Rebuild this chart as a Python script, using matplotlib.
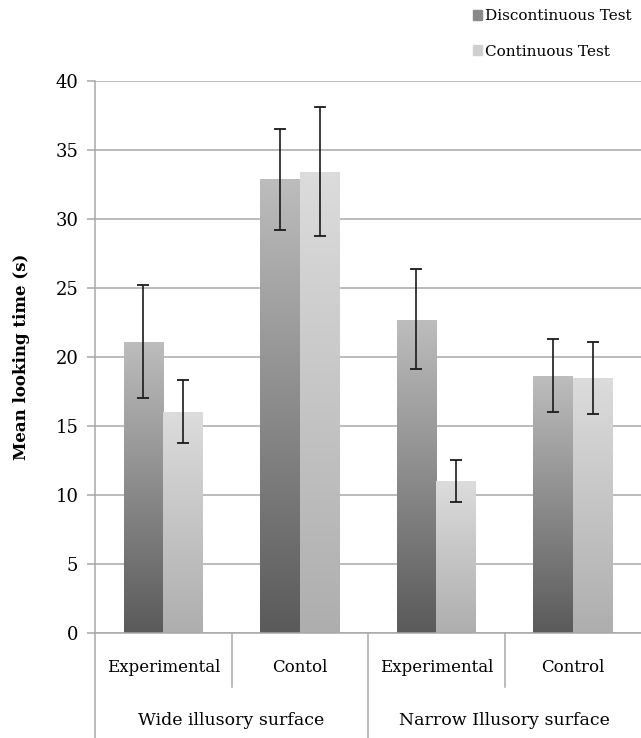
import numpy as np
import matplotlib
matplotlib.use("Agg")
import matplotlib.pyplot as plt
from matplotlib.patches import Patch
from matplotlib.colors import LinearSegmentedColormap
import matplotlib.transforms as mtransforms

plt.rcParams['font.family'] = ['DejaVu Serif']

conditions = ['Experimental', 'Contol', 'Experimental', 'Control']
groups = ['Wide illusory surface', 'Narrow Illusory surface']
series = ['Discontinuous Test', 'Continuous Test']

discont = [21.1, 32.9, 22.7, 18.6]
discont_lo = [17.0, 29.2, 19.1, 16.0]
discont_hi = [25.2, 36.5, 26.4, 21.3]
cont = [16.0, 33.4, 11.0, 18.5]
cont_lo = [13.75, 28.8, 9.5, 15.9]
cont_hi = [18.3, 38.1, 12.55, 21.1]

grid_col = '#a8a8a8'

fig = plt.figure(figsize=(6.41, 7.38), dpi=100)
ax = fig.add_axes([95 / 641, 105 / 738, 546 / 641, 552 / 738])

x = np.arange(len(conditions))
w = 0.29

dark_cmap = LinearSegmentedColormap.from_list('dark', ['#5a5a5a', '#bdbdbd'])
light_cmap = LinearSegmentedColormap.from_list('light', ['#aeaeae', '#dcdcdc'])

bars1 = ax.bar(x - w / 2, discont, w, color='none', zorder=2)
bars2 = ax.bar(x + w / 2, cont, w, color='none', zorder=2)

grad = np.linspace(0, 1, 256).reshape(-1, 1)
for bars, cmap in [(bars1, dark_cmap), (bars2, light_cmap)]:
    for p in bars:
        x0, y0 = p.get_x(), p.get_y()
        im = ax.imshow(grad, cmap=cmap, origin='lower', aspect='auto',
                       extent=[x0, x0 + p.get_width(), y0, y0 + p.get_height()],
                       zorder=2)
        im.set_clip_path(p)

err1 = [np.array(discont) - np.array(discont_lo), np.array(discont_hi) - np.array(discont)]
err2 = [np.array(cont) - np.array(cont_lo), np.array(cont_hi) - np.array(cont)]
ax.errorbar(x - w / 2, discont, yerr=err1, fmt='none', ecolor='#1a1a1a',
            elinewidth=1.2, capsize=4, capthick=1.3, zorder=3)
ax.errorbar(x + w / 2, cont, yerr=err2, fmt='none', ecolor='#1a1a1a',
            elinewidth=1.2, capsize=4, capthick=1.3, zorder=3)

ax.set_xlim(-0.5, 3.5)
ax.set_ylim(0, 40)
ax.set_yticks(np.arange(0, 41, 5))
ax.yaxis.grid(True, color=grid_col, linewidth=1.1)
ax.set_axisbelow(True)
ax.set_xticks([])
ax.tick_params(axis='y', length=6, width=1.1, color=grid_col, pad=6, labelsize=13)

for s in ['top', 'right']:
    ax.spines[s].set_visible(False)
for s in ['left', 'bottom']:
    ax.spines[s].set_color(grid_col)
    ax.spines[s].set_linewidth(1.1)

ax.set_ylabel('Mean looking time (s)', fontsize=12, fontweight='bold', labelpad=18)

# category / group labels below the axis
trans = mtransforms.blended_transform_factory(ax.transData, ax.transAxes)
for xi, lab in zip(x, conditions):
    ax.text(xi, -0.063, lab, transform=trans, ha='center', va='center', fontsize=12)
for gi, lab in enumerate(groups):
    ax.text(2 * gi + 0.5, -0.158, lab, transform=trans, ha='center', va='center', fontsize=12.5)

for xs in [0.5, 2.5]:
    ax.plot([xs, xs], [0, -0.098], transform=trans, color=grid_col, lw=1.1, clip_on=False)
for xs in [-0.5, 1.5]:
    ax.plot([xs, xs], [0, -0.2], transform=trans, color=grid_col, lw=1.1, clip_on=False)

handles = [Patch(facecolor='#8a8a8a', edgecolor='#8a8a8a'),
           Patch(facecolor='#cfcfcf', edgecolor='#cfcfcf')]
fig.legend(handles, series, loc='upper right', bbox_to_anchor=(1.0, 1.0),
           frameon=False, fontsize=11, handlelength=0.6, handleheight=0.6,
           handletextpad=0.2, labelspacing=1.4, borderaxespad=0.2)

fig.savefig('out.png', dpi=100)
